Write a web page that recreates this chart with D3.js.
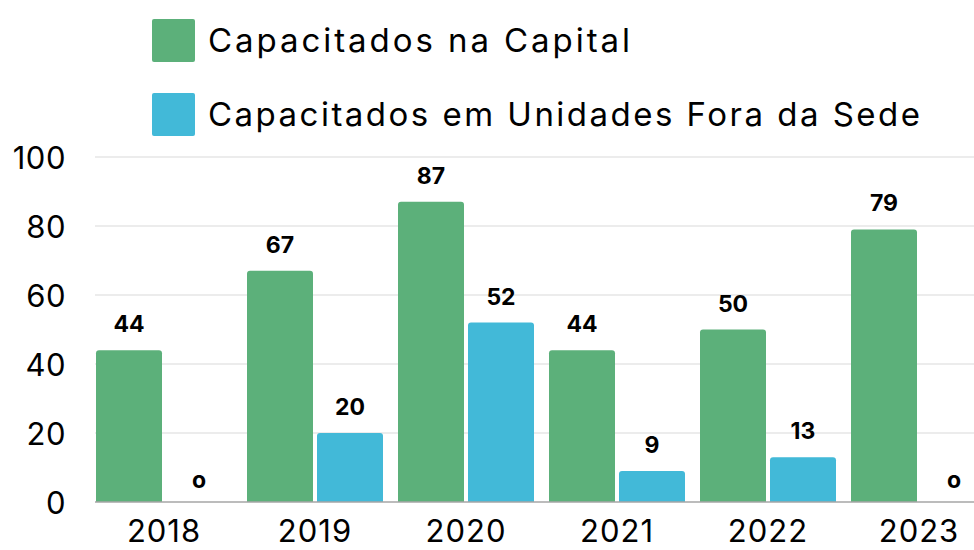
<!DOCTYPE html>
<html>
<head>
<meta charset="utf-8">
<script src="https://cdn.jsdelivr.net/npm/d3@7"></script>
<style>
  body { margin: 0; background: #fff; }
  svg text { font-family: Inter, "Open Sans", sans-serif; fill: #000; }
</style>
</head>
<body>
<svg class="chart" width="974" height="550"></svg>
<script>
const years = ['2018', '2019', '2020', '2021', '2022', '2023']
const capital = [44, 67, 87, 44, 50, 79]
const foraDaSede = [0, 20, 52, 9, 13, 0]
const seriesNames = ['Capacitados na Capital', 'Capacitados em Unidades Fora da Sede']
const seriesColors = ['#5cb07a', '#42b9d8']
const yTicks = [0, 20, 40, 60, 80, 100]

const svg = d3.select('svg.chart')
const width = 974

// plot area, the last group runs off the right edge like the original
const yScale = d3.scaleLinear().domain([0, 100]).range([502, 157])
const xScale = d3.scaleBand().domain(years).range([96, 987]).paddingInner(15 / 151).paddingOuter(0)
const subScale = d3.scaleBand().domain([0, 1]).range([0, xScale.bandwidth()]).paddingInner(4 / 70)

// grid
svg.append('g').selectAll('line.grid')
  .data(yTicks.filter(d => d > 0))
  .enter().append('line')
  .attr('x1', 95).attr('x2', width)
  .attr('y1', d => yScale(d)).attr('y2', d => yScale(d))
  .style('stroke', '#d9d9d9').style('stroke-width', 1)

const yAxis = svg.append('g')
  .attr('transform', 'translate(66,0)')
  .call(d3.axisLeft(yScale).tickValues(yTicks).tickSize(0).tickPadding(0))
yAxis.select('.domain').remove()
yAxis.selectAll('text').style('font-size', '31px').style('letter-spacing', '0.5px').attr('dy', '0.36em')

// bars, rounded on top only
const barPath = (x, y, w, h, r) => {
  if (h <= 0) return ''
  r = Math.min(r, h)
  return 'M' + x + ',' + (y + h) + 'V' + (y + r) + 'Q' + x + ',' + y + ' ' + (x + r) + ',' + y +
    'H' + (x + w - r) + 'Q' + (x + w) + ',' + y + ' ' + (x + w) + ',' + (y + r) + 'V' + (y + h) + 'Z'
}

const rows = years.map((y, i) => ({ year: y, values: [capital[i], foraDaSede[i]] }))

const groups = svg.append('g').selectAll('g.group')
  .data(rows).enter().append('g')
  .attr('transform', d => 'translate(' + xScale(d.year) + ',0)')

groups.selectAll('path.bar')
  .data(d => d.values.map((v, k) => ({ v, k })))
  .enter().append('path')
  .attr('d', d => barPath(subScale(d.k), yScale(d.v), subScale.bandwidth(), yScale(0) - yScale(d.v), 3))
  .style('fill', d => seriesColors[d.k])

groups.selectAll('text.value')
  .data(d => d.values.map((v, k) => ({ v, k })))
  .enter().append('text')
  .attr('x', d => subScale(d.k) + subScale.bandwidth() / 2)
  .attr('y', d => yScale(d.v) - (d.v === 0 ? 14 : 18))
  .attr('text-anchor', 'middle')
  .style('font-size', '23px').style('font-weight', 'bold')
  .text(d => d.v === 0 ? 'o' : d.v)

// baseline
svg.append('line')
  .attr('x1', 95).attr('x2', width)
  .attr('y1', yScale(0)).attr('y2', yScale(0))
  .style('stroke', '#a6a6a6').style('stroke-width', 1.3)

const xAxis = svg.append('g')
  .attr('transform', 'translate(0,' + yScale(0) + ')')
  .call(d3.axisBottom(xScale).tickSize(0).tickPadding(0))
xAxis.select('.domain').remove()
xAxis.selectAll('text').attr('dy', null).attr('y', 40).style('font-size', '31px').style('letter-spacing', '1px')

// legend, text stretched to the width of the original lettering
const legendTextWidths = [422, 712]
const legend = svg.append('g').selectAll('g.legend')
  .data(seriesNames).enter().append('g')
  .attr('transform', (d, i) => 'translate(152,' + (19 + i * 74) + ')')
legend.append('rect')
  .attr('width', 43).attr('height', 43).attr('rx', 2)
  .style('fill', (d, i) => seriesColors[i])
legend.append('text')
  .attr('x', 56).attr('y', 21.5).attr('dy', '0.36em')
  .attr('textLength', (d, i) => legendTextWidths[i]).attr('lengthAdjust', 'spacing')
  .style('font-size', '33px')
  .text(d => d)
</script>
</body>
</html>
